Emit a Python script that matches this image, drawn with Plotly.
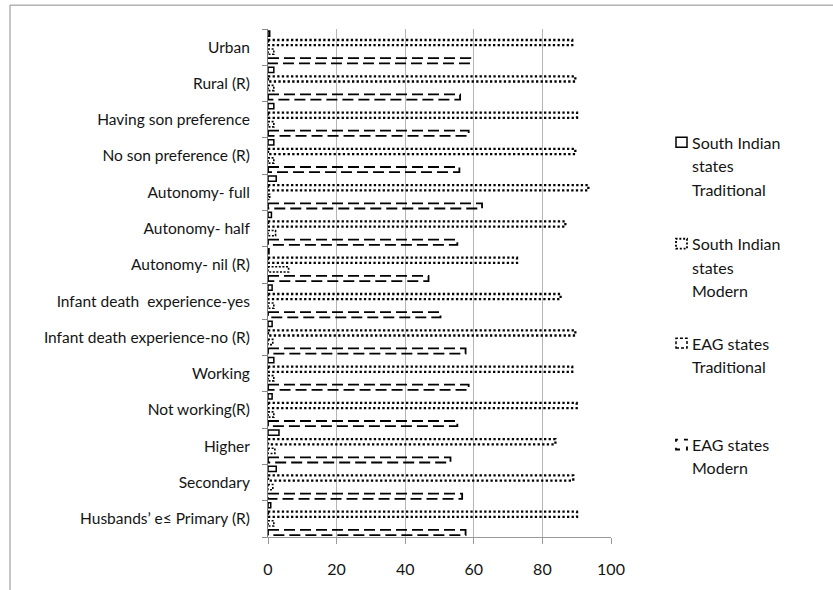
import plotly.graph_objects as go

# Categories, listed top to bottom
categories = [
    "Urban",
    "Rural (R)",
    "Having son preference",
    "No son preference (R)",
    "Autonomy- full",
    "Autonomy- half",
    "Autonomy- nil (R)",
    "Infant death  experience-yes",
    "Infant death experience-no (R)",
    "Working",
    "Not working(R)",
    "Higher",
    "Secondary",
    "Husbands\u2019 e\u2264 Primary (R)",
]

si_traditional = [0.5, 1.7, 1.7, 1.7, 2.4, 1.0, 0.3, 1.2, 1.2, 1.7, 1.2, 3.2, 2.4, 0.8]
si_modern = [88.7, 89.6, 90.1, 89.6, 93.4, 86.7, 72.6, 85.3, 89.6, 88.7, 90.0, 83.8, 89.0, 90.1]
eag_traditional = [1.7, 1.7, 1.7, 1.7, 0.5, 2.2, 6.0, 1.7, 1.4, 1.7, 1.7, 2.0, 1.4, 1.7]
eag_modern = [59.0, 56.0, 58.5, 55.8, 62.4, 55.2, 46.8, 50.3, 57.6, 58.5, 55.2, 53.2, 56.6, 57.6]

x_ticks = [0, 20, 40, 60, 80, 100]

series_names = [
    "South Indian states Traditional",
    "South Indian states Modern",
    "EAG states Traditional",
    "EAG states Modern",
]
legend_lines = [
    ["South Indian", "states", "Traditional"],
    ["South Indian", "states", "Modern"],
    ["EAG states", "Traditional"],
    ["EAG states", "Modern"],
]
series_values = [si_traditional, si_modern, eag_traditional, eag_modern]

# outline styles: (width, dash)
outline_styles = [
    (1.5, "solid"),
    (2.3, "2.3px,2.3px"),
    (1.6, "2px,1.6px"),
    (1.8, "11px,5px"),
]

FONT = "Lato, 'Open Sans', sans-serif"
TEXT = "#141414"
GRID = "#b5b5b5"

# page geometry (pixels)
W, H = 833, 590
ML, MR, MT, MB = 268, 222, 29, 50
PW, PH = W - ML - MR, H - MT - MB


def px_x(p):
    return (p - ML) / PW


def px_y(p):
    return (H - MB - p) / PH


n_series = len(series_values)
slot = 1.0 / n_series
half = 0.072

fig = go.Figure()

# each bar is drawn as an outlined rectangle within its category slot
for j, (name, vals, (lw, dash)) in enumerate(zip(series_names, series_values, outline_styles)):
    xs, ys, txt = [], [], []
    for k, v in enumerate(vals):
        c = k - 0.5 + (j + 0.5) * slot
        xs += [0, v, v, 0, 0, None]
        ys += [c - half, c - half, c + half, c + half, c - half, None]
        txt += [f"{categories[k]}: {v}"] * 5 + [None]
    fig.add_trace(
        go.Scatter(
            x=xs,
            y=ys,
            mode="lines",
            line=dict(color="#000000", width=lw, dash=dash),
            name=name,
            text=txt,
            hoverinfo="text+name",
            showlegend=False,
        )
    )

fig.update_xaxes(
    range=[0, 100],
    tickvals=x_ticks,
    showgrid=True,
    gridcolor=GRID,
    gridwidth=1,
    showline=True,
    linecolor="#9a9a9a",
    linewidth=1,
    ticks="outside",
    ticklen=6,
    tickcolor="#9a9a9a",
    zeroline=False,
    tickfont=dict(family=FONT, size=16, color=TEXT),
    ticklabelstandoff=12,
)

fig.update_yaxes(
    range=[len(categories) - 0.5, -0.5],
    tickvals=list(range(len(categories))),
    ticktext=categories,
    ticks="",
    showgrid=False,
    zeroline=False,
    showline=True,
    linecolor="#7a7a7a",
    linewidth=1,
    tickfont=dict(family=FONT, size=15.5, color=TEXT),
    ticklabelstandoff=14,
    minor=dict(
        tickvals=[k + 0.5 for k in range(-1, len(categories))],
        ticks="outside",
        ticklen=5,
        tickcolor="#8a8a8a",
        showgrid=False,
    ),
)

shapes = [
    # chart frame
    dict(
        type="rect", xref="paper", yref="paper",
        x0=px_x(10), x1=px_x(W + 20), y0=px_y(H + 20), y1=px_y(5),
        line=dict(color="#8c8c8c", width=1), fillcolor="rgba(0,0,0,0)", layer="below",
    )
]
annotations = []

legend_first_line = [143, 245, 345, 447]
legend_line_gap = 23.5
legend_box_dash = ["solid", "2px,1.8px", "3px,2px", "4px,6px"]
legend_box_width = [1.5, 1.8, 1.5, 1.8]
for i, lines in enumerate(legend_lines):
    y0 = legend_first_line[i]
    shapes.append(
        dict(
            type="rect", xref="paper", yref="paper",
            x0=px_x(676), x1=px_x(687), y0=px_y(y0 + 5), y1=px_y(y0 - 5),
            line=dict(color="#000000", width=legend_box_width[i], dash=legend_box_dash[i]),
            fillcolor="rgba(0,0,0,0)",
        )
    )
    for n, line_text in enumerate(lines):
        annotations.append(
            dict(
                text=line_text, xref="paper", yref="paper",
                x=px_x(690), y=px_y(y0 + n * legend_line_gap),
                xanchor="left", yanchor="middle", showarrow=False,
                font=dict(family=FONT, size=16, color=TEXT),
            )
        )

fig.update_layout(
    width=W,
    height=H,
    margin=dict(l=ML, r=MR, t=MT, b=MB, pad=0),
    paper_bgcolor="#ffffff",
    plot_bgcolor="#ffffff",
    showlegend=False,
    shapes=shapes,
    annotations=annotations,
)

fig.write_html("out.html")
